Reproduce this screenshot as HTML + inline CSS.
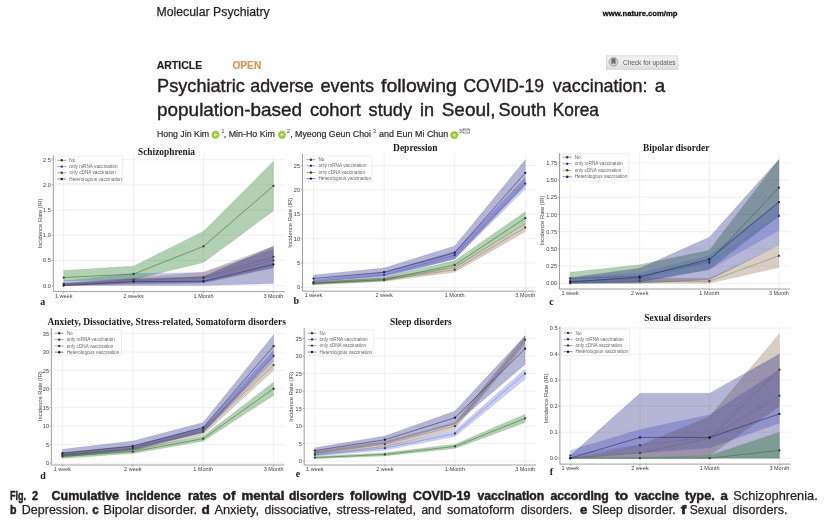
<!DOCTYPE html>
<html><head><meta charset="utf-8"><style>
html,body{margin:0;padding:0;background:#fff;width:825px;height:523px;overflow:hidden}
svg{display:block;filter:blur(0.35px)}
</style></head><body>
<svg width="825" height="523" viewBox="0 0 825 523">
<rect width="825" height="523" fill="#fff"/>
<text x="156.50" y="15.70" font-family="Liberation Sans" font-size="12.8" font-weight="normal" fill="#231f20" text-anchor="start" stroke="#231f20" stroke-width="0.25" textLength="113.20" lengthAdjust="spacingAndGlyphs">Molecular Psychiatry</text>
<text x="602.70" y="16.00" font-family="Liberation Sans" font-size="7.9" font-weight="bold" fill="#111" text-anchor="start" stroke="#111" stroke-width="0.3" textLength="74.80" lengthAdjust="spacingAndGlyphs">www.nature.com/mp</text>
<text x="156.70" y="69.00" font-family="Liberation Sans" font-size="10.6" font-weight="bold" fill="#231f20" text-anchor="start" stroke="#231f20" stroke-width="0.2" textLength="45.50" lengthAdjust="spacingAndGlyphs">ARTICLE</text>
<text x="232.40" y="69.00" font-family="Liberation Sans" font-size="10.4" font-weight="bold" fill="#d9955b" text-anchor="start" stroke="#d9955b" stroke-width="0.2" textLength="28.90" lengthAdjust="spacingAndGlyphs">OPEN</text>
<text x="157.10" y="91.60" font-family="Liberation Sans" font-size="18.4" font-weight="normal" fill="#231f20" text-anchor="start" stroke="#231f20" stroke-width="0.4" textLength="87.70" lengthAdjust="spacingAndGlyphs">Psychiatric</text>
<text x="250.30" y="91.60" font-family="Liberation Sans" font-size="18.4" font-weight="normal" fill="#231f20" text-anchor="start" stroke="#231f20" stroke-width="0.4" textLength="63.40" lengthAdjust="spacingAndGlyphs">adverse</text>
<text x="320.50" y="91.60" font-family="Liberation Sans" font-size="18.4" font-weight="normal" fill="#231f20" text-anchor="start" stroke="#231f20" stroke-width="0.4" textLength="53.50" lengthAdjust="spacingAndGlyphs">events</text>
<text x="381.00" y="91.60" font-family="Liberation Sans" font-size="18.4" font-weight="normal" fill="#231f20" text-anchor="start" stroke="#231f20" stroke-width="0.4" textLength="75.90" lengthAdjust="spacingAndGlyphs">following</text>
<text x="463.50" y="91.60" font-family="Liberation Sans" font-size="18.4" font-weight="normal" fill="#231f20" text-anchor="start" stroke="#231f20" stroke-width="0.4" textLength="80.50" lengthAdjust="spacingAndGlyphs">COVID-19</text>
<text x="552.80" y="91.60" font-family="Liberation Sans" font-size="18.4" font-weight="normal" fill="#231f20" text-anchor="start" stroke="#231f20" stroke-width="0.4" textLength="94.70" lengthAdjust="spacingAndGlyphs">vaccination:</text>
<text x="654.70" y="91.60" font-family="Liberation Sans" font-size="18.4" font-weight="normal" fill="#231f20" text-anchor="start" stroke="#231f20" stroke-width="0.4" textLength="10.40" lengthAdjust="spacingAndGlyphs">a</text>
<text x="157.10" y="115.50" font-family="Liberation Sans" font-size="18.4" font-weight="normal" fill="#231f20" text-anchor="start" stroke="#231f20" stroke-width="0.4" textLength="145.00" lengthAdjust="spacingAndGlyphs">population-based</text>
<text x="309.90" y="115.50" font-family="Liberation Sans" font-size="18.4" font-weight="normal" fill="#231f20" text-anchor="start" stroke="#231f20" stroke-width="0.4" textLength="51.00" lengthAdjust="spacingAndGlyphs">cohort</text>
<text x="368.60" y="115.50" font-family="Liberation Sans" font-size="18.4" font-weight="normal" fill="#231f20" text-anchor="start" stroke="#231f20" stroke-width="0.4" textLength="43.50" lengthAdjust="spacingAndGlyphs">study</text>
<text x="419.90" y="115.50" font-family="Liberation Sans" font-size="18.4" font-weight="normal" fill="#231f20" text-anchor="start" stroke="#231f20" stroke-width="0.4" textLength="14.10" lengthAdjust="spacingAndGlyphs">in</text>
<text x="441.70" y="115.50" font-family="Liberation Sans" font-size="18.4" font-weight="normal" fill="#231f20" text-anchor="start" stroke="#231f20" stroke-width="0.4" textLength="53.80" lengthAdjust="spacingAndGlyphs">Seoul,</text>
<text x="498.50" y="115.50" font-family="Liberation Sans" font-size="18.4" font-weight="normal" fill="#231f20" text-anchor="start" stroke="#231f20" stroke-width="0.4" textLength="47.60" lengthAdjust="spacingAndGlyphs">South</text>
<text x="552.80" y="115.50" font-family="Liberation Sans" font-size="18.4" font-weight="normal" fill="#231f20" text-anchor="start" stroke="#231f20" stroke-width="0.4" textLength="46.20" lengthAdjust="spacingAndGlyphs">Korea</text>
<defs><linearGradient id="cfu" x1="0" y1="0" x2="0" y2="1"><stop offset="0" stop-color="#f2f2f2"/><stop offset="0.6" stop-color="#e9e9e9"/><stop offset="1" stop-color="#dcdcdc"/></linearGradient></defs>
<rect x="606.5" y="55.9" width="71.4" height="13.6" fill="url(#cfu)" stroke="#d2d2d2" stroke-width="0.7"/>
<circle cx="613.5" cy="61.8" r="4.3" fill="#d6d6d6" stroke="#9a9a9a" stroke-width="0.9"/>
<path d="M611.4,58.6H615.6V64.4L613.5,63L611.4,64.4Z" fill="#6e6e6e"/>
<text x="623.00" y="65.00" font-family="Liberation Sans" font-size="6.3" font-weight="normal" fill="#5a5a5a" text-anchor="start" textLength="52.50" lengthAdjust="spacingAndGlyphs">Check for updates</text>
<text x="156.90" y="136.50" font-family="Liberation Sans" font-size="9.2" font-weight="normal" fill="#2a2a2a" text-anchor="start" stroke="#2a2a2a" stroke-width="0.2" textLength="52.30" lengthAdjust="spacingAndGlyphs">Hong Jin Kim</text>
<circle cx="215.5" cy="134.8" r="4.2" fill="#b5d86a"/><circle cx="215.5" cy="134.8" r="3.3" fill="#98c43c"/><circle cx="215.5" cy="134.8" r="1.7" fill="#cfe59a"/>
<text x="221.40" y="132.90" font-family="Liberation Sans" font-size="5.2" font-weight="normal" fill="#2a2a2a" text-anchor="start">1</text>
<text x="223.80" y="136.50" font-family="Liberation Sans" font-size="9.2" font-weight="normal" fill="#2a2a2a" text-anchor="start" stroke="#2a2a2a" stroke-width="0.2" textLength="51.10" lengthAdjust="spacingAndGlyphs">, Min-Ho Kim</text>
<circle cx="282" cy="134.8" r="4.2" fill="#b5d86a"/><circle cx="282" cy="134.8" r="3.3" fill="#98c43c"/><circle cx="282" cy="134.8" r="1.7" fill="#cfe59a"/>
<text x="287.00" y="132.90" font-family="Liberation Sans" font-size="5.2" font-weight="normal" fill="#2a2a2a" text-anchor="start">2</text>
<text x="290.20" y="136.50" font-family="Liberation Sans" font-size="9.2" font-weight="normal" fill="#2a2a2a" text-anchor="start" stroke="#2a2a2a" stroke-width="0.2" textLength="80.70" lengthAdjust="spacingAndGlyphs">, Myeong Geun Choi</text>
<text x="373.00" y="132.90" font-family="Liberation Sans" font-size="5.2" font-weight="normal" fill="#2a2a2a" text-anchor="start">3</text>
<text x="379.10" y="136.50" font-family="Liberation Sans" font-size="9.2" font-weight="normal" fill="#2a2a2a" text-anchor="start" stroke="#2a2a2a" stroke-width="0.2" textLength="69.20" lengthAdjust="spacingAndGlyphs">and Eun Mi Chun</text>
<circle cx="454.3" cy="135.1" r="4.2" fill="#b5d86a"/><circle cx="454.3" cy="135.1" r="3.3" fill="#98c43c"/><circle cx="454.3" cy="135.1" r="1.7" fill="#cfe59a"/>
<text x="458.90" y="132.70" font-family="Liberation Sans" font-size="5.0" font-weight="normal" fill="#2a2a2a" text-anchor="start">3</text>
<rect x="463.0" y="129.0" width="6.2" height="4.0" fill="none" stroke="#333" stroke-width="0.55"/><path d="M463.0,129.0L466.1,131.4L469.2,129.0" fill="none" stroke="#333" stroke-width="0.45"/>
<path d="M53.30,285.60H284.80M53.30,260.43H284.80M53.30,235.25H284.80M53.30,210.08H284.80M53.30,184.90H284.80M53.30,159.73H284.80M63.70,155.30V291.60M133.60,155.30V291.60M203.50,155.30V291.60M273.40,155.30V291.60" stroke="#e6e6e6" stroke-width="0.6" fill="none"/>
<polygon points="63.70,281.07 133.60,273.52 203.50,272.51 273.40,249.35 273.40,267.98 203.50,283.08 133.60,284.09 63.70,285.60" fill="rgb(80,90,210)" fill-opacity="0.3" stroke="rgb(80,90,210)" stroke-opacity="0.18" stroke-width="0.5"/>
<polygon points="63.70,283.08 133.60,278.05 203.50,272.01 273.40,246.33 273.40,267.47 203.50,282.58 133.60,283.59 63.70,285.60" fill="rgb(125,95,60)" fill-opacity="0.3" stroke="rgb(125,95,60)" stroke-opacity="0.18" stroke-width="0.5"/>
<polygon points="63.70,283.59 133.60,279.05 203.50,276.54 273.40,246.33 273.40,283.59 203.50,285.60 133.60,285.60 63.70,285.60" fill="rgb(10,10,120)" fill-opacity="0.3" stroke="rgb(10,10,120)" stroke-opacity="0.18" stroke-width="0.5"/>
<polygon points="63.70,270.50 133.60,265.96 203.50,231.22 273.40,161.24 273.40,211.08 203.50,262.44 133.60,279.56 63.70,281.32" fill="rgb(0,100,0)" fill-opacity="0.3" stroke="rgb(0,100,0)" stroke-opacity="0.18" stroke-width="0.5"/>
<polyline points="63.70,277.54 133.60,274.02 203.50,246.33 273.40,185.91" fill="none" stroke="rgb(55,105,55)" stroke-width="0.65" stroke-opacity="0.85"/>
<circle cx="63.70" cy="277.54" r="1.15" fill="rgb(35,70,35)"/>
<circle cx="133.60" cy="274.02" r="1.15" fill="rgb(35,70,35)"/>
<circle cx="203.50" cy="246.33" r="1.15" fill="rgb(35,70,35)"/>
<circle cx="273.40" cy="185.91" r="1.15" fill="rgb(35,70,35)"/>
<polyline points="63.70,283.59 133.60,279.56 203.50,278.05 273.40,260.43" fill="none" stroke="rgb(85,95,175)" stroke-width="0.65" stroke-opacity="0.6"/>
<circle cx="63.70" cy="283.59" r="1.15" fill="rgb(50,55,120)"/>
<circle cx="133.60" cy="279.56" r="1.15" fill="rgb(50,55,120)"/>
<circle cx="203.50" cy="278.05" r="1.15" fill="rgb(50,55,120)"/>
<circle cx="273.40" cy="260.43" r="1.15" fill="rgb(50,55,120)"/>
<polyline points="63.70,284.59 133.60,281.07 203.50,277.04 273.40,256.90" fill="none" stroke="rgb(110,90,65)" stroke-width="0.65" stroke-opacity="0.6"/>
<circle cx="63.70" cy="284.59" r="1.15" fill="rgb(70,60,45)"/>
<circle cx="133.60" cy="281.07" r="1.15" fill="rgb(70,60,45)"/>
<circle cx="203.50" cy="277.04" r="1.15" fill="rgb(70,60,45)"/>
<circle cx="273.40" cy="256.90" r="1.15" fill="rgb(70,60,45)"/>
<polyline points="63.70,285.60 133.60,281.57 203.50,281.27 273.40,264.45" fill="none" stroke="rgb(35,35,95)" stroke-width="0.65" stroke-opacity="0.85"/>
<circle cx="63.70" cy="285.60" r="1.15" fill="rgb(25,25,65)"/>
<circle cx="133.60" cy="281.57" r="1.15" fill="rgb(25,25,65)"/>
<circle cx="203.50" cy="281.27" r="1.15" fill="rgb(25,25,65)"/>
<circle cx="273.40" cy="264.45" r="1.15" fill="rgb(25,25,65)"/>
<path d="M53.30,155.30V291.60H284.80" stroke="#888" stroke-width="0.8" fill="none"/>
<path d="M51.50,285.60H53.30M51.50,260.43H53.30M51.50,235.25H53.30M51.50,210.08H53.30M51.50,184.90H53.30M51.50,159.73H53.30M63.70,291.60V293.40M133.60,291.60V293.40M203.50,291.60V293.40M273.40,291.60V293.40" stroke="#888" stroke-width="0.6" fill="none"/>
<text x="50.90" y="287.60" font-family="Liberation Sans" font-size="5.6" font-weight="normal" fill="#3c3c3c" text-anchor="end">0.0</text>
<text x="50.90" y="262.43" font-family="Liberation Sans" font-size="5.6" font-weight="normal" fill="#3c3c3c" text-anchor="end">0.5</text>
<text x="50.90" y="237.25" font-family="Liberation Sans" font-size="5.6" font-weight="normal" fill="#3c3c3c" text-anchor="end">1.0</text>
<text x="50.90" y="212.08" font-family="Liberation Sans" font-size="5.6" font-weight="normal" fill="#3c3c3c" text-anchor="end">1.5</text>
<text x="50.90" y="186.90" font-family="Liberation Sans" font-size="5.6" font-weight="normal" fill="#3c3c3c" text-anchor="end">2.0</text>
<text x="50.90" y="161.73" font-family="Liberation Sans" font-size="5.6" font-weight="normal" fill="#3c3c3c" text-anchor="end">2.5</text>
<text x="63.70" y="297.60" font-family="Liberation Sans" font-size="5.5" font-weight="normal" fill="#3c3c3c" text-anchor="middle">1 week</text>
<text x="133.60" y="297.60" font-family="Liberation Sans" font-size="5.5" font-weight="normal" fill="#3c3c3c" text-anchor="middle">2 weeks</text>
<text x="203.50" y="297.60" font-family="Liberation Sans" font-size="5.5" font-weight="normal" fill="#3c3c3c" text-anchor="middle">1 Month</text>
<text x="273.40" y="297.60" font-family="Liberation Sans" font-size="5.5" font-weight="normal" fill="#3c3c3c" text-anchor="middle">3 Month</text>
<text x="0" y="0" transform="translate(41.60,223.50) rotate(-90)" font-family="Liberation Sans" font-size="5.8" fill="#444" text-anchor="middle">Incidence Rate (IR)</text>
<rect x="55.30" y="156.00" width="67.30" height="27.60" rx="1" fill="#fff" fill-opacity="0.8" stroke="#dcdcdc" stroke-width="0.5"/>
<path d="M57.30,160.30H66.30" stroke="rgb(55,105,55)" stroke-width="0.8" stroke-opacity="0.7"/>
<circle cx="61.80" cy="160.30" r="1.2" fill="rgb(35,70,35)"/>
<text x="69.30" y="161.90" font-family="Liberation Sans" font-size="4.7" font-weight="normal" fill="#666" text-anchor="start">No</text>
<path d="M57.30,166.60H66.30" stroke="rgb(85,95,175)" stroke-width="0.8" stroke-opacity="0.7"/>
<circle cx="61.80" cy="166.60" r="1.2" fill="rgb(50,55,120)"/>
<text x="69.30" y="168.20" font-family="Liberation Sans" font-size="4.7" font-weight="normal" fill="#666" text-anchor="start">only mRNA vaccination</text>
<path d="M57.30,172.80H66.30" stroke="rgb(110,90,65)" stroke-width="0.8" stroke-opacity="0.7"/>
<circle cx="61.80" cy="172.80" r="1.2" fill="rgb(70,60,45)"/>
<text x="69.30" y="174.40" font-family="Liberation Sans" font-size="4.7" font-weight="normal" fill="#666" text-anchor="start">only cDNA vaccination</text>
<path d="M57.30,179.00H66.30" stroke="rgb(35,35,95)" stroke-width="0.8" stroke-opacity="0.7"/>
<circle cx="61.80" cy="179.00" r="1.2" fill="rgb(25,25,65)"/>
<text x="69.30" y="180.60" font-family="Liberation Sans" font-size="4.7" font-weight="normal" fill="#666" text-anchor="start">Heterologous vaccination</text>
<text x="138.00" y="154.50" font-family="Liberation Serif" font-size="9.4" font-weight="bold" fill="#1a1a1a" text-anchor="start" textLength="57.00" lengthAdjust="spacingAndGlyphs">Schizophrenia</text>
<text x="42.70" y="304.80" font-family="Liberation Serif" font-size="10" font-weight="bold" fill="#1a1a1a" text-anchor="middle">a</text>
<path d="M302.50,287.30H535.60M302.50,262.95H535.60M302.50,238.60H535.60M302.50,214.25H535.60M302.50,189.90H535.60M302.50,165.55H535.60M313.50,153.80V291.20M384.10,153.80V291.20M454.70,153.80V291.20M525.30,153.80V291.20" stroke="#e6e6e6" stroke-width="0.6" fill="none"/>
<polygon points="313.50,280.00 384.10,272.20 454.70,251.26 525.30,177.73 525.30,188.93 454.70,259.05 384.10,278.05 313.50,283.89" fill="rgb(80,90,210)" fill-opacity="0.3" stroke="rgb(80,90,210)" stroke-opacity="0.18" stroke-width="0.5"/>
<polygon points="313.50,281.94 384.10,278.05 454.70,266.85 525.30,223.50 525.30,231.78 454.70,272.20 384.10,281.46 313.50,284.87" fill="rgb(125,95,60)" fill-opacity="0.3" stroke="rgb(125,95,60)" stroke-opacity="0.18" stroke-width="0.5"/>
<polygon points="313.50,274.88 384.10,268.06 454.70,245.91 525.30,159.71 525.30,185.03 454.70,259.05 384.10,276.10 313.50,281.46" fill="rgb(10,10,120)" fill-opacity="0.3" stroke="rgb(10,10,120)" stroke-opacity="0.18" stroke-width="0.5"/>
<polygon points="313.50,281.94 384.10,277.56 454.70,260.51 525.30,211.81 525.30,223.99 454.70,267.82 384.10,280.97 313.50,284.62" fill="rgb(0,100,0)" fill-opacity="0.3" stroke="rgb(0,100,0)" stroke-opacity="0.18" stroke-width="0.5"/>
<polyline points="313.50,283.40 384.10,279.51 454.70,264.90 525.30,218.15" fill="none" stroke="rgb(55,105,55)" stroke-width="0.65" stroke-opacity="0.85"/>
<circle cx="313.50" cy="283.40" r="1.15" fill="rgb(35,70,35)"/>
<circle cx="384.10" cy="279.51" r="1.15" fill="rgb(35,70,35)"/>
<circle cx="454.70" cy="264.90" r="1.15" fill="rgb(35,70,35)"/>
<circle cx="525.30" cy="218.15" r="1.15" fill="rgb(35,70,35)"/>
<polyline points="313.50,281.94 384.10,275.12 454.70,255.16 525.30,183.57" fill="none" stroke="rgb(85,95,175)" stroke-width="0.65" stroke-opacity="0.6"/>
<circle cx="313.50" cy="281.94" r="1.15" fill="rgb(50,55,120)"/>
<circle cx="384.10" cy="275.12" r="1.15" fill="rgb(50,55,120)"/>
<circle cx="454.70" cy="255.16" r="1.15" fill="rgb(50,55,120)"/>
<circle cx="525.30" cy="183.57" r="1.15" fill="rgb(50,55,120)"/>
<polyline points="313.50,283.40 384.10,280.00 454.70,269.77 525.30,227.40" fill="none" stroke="rgb(110,90,65)" stroke-width="0.65" stroke-opacity="0.6"/>
<circle cx="313.50" cy="283.40" r="1.15" fill="rgb(70,60,45)"/>
<circle cx="384.10" cy="280.00" r="1.15" fill="rgb(70,60,45)"/>
<circle cx="454.70" cy="269.77" r="1.15" fill="rgb(70,60,45)"/>
<circle cx="525.30" cy="227.40" r="1.15" fill="rgb(70,60,45)"/>
<polyline points="313.50,278.53 384.10,272.20 454.70,252.72 525.30,172.86" fill="none" stroke="rgb(35,35,95)" stroke-width="0.65" stroke-opacity="0.85"/>
<circle cx="313.50" cy="278.53" r="1.15" fill="rgb(25,25,65)"/>
<circle cx="384.10" cy="272.20" r="1.15" fill="rgb(25,25,65)"/>
<circle cx="454.70" cy="252.72" r="1.15" fill="rgb(25,25,65)"/>
<circle cx="525.30" cy="172.86" r="1.15" fill="rgb(25,25,65)"/>
<path d="M302.50,153.80V291.20H535.60" stroke="#888" stroke-width="0.8" fill="none"/>
<path d="M300.70,287.30H302.50M300.70,262.95H302.50M300.70,238.60H302.50M300.70,214.25H302.50M300.70,189.90H302.50M300.70,165.55H302.50M313.50,291.20V293.00M384.10,291.20V293.00M454.70,291.20V293.00M525.30,291.20V293.00" stroke="#888" stroke-width="0.6" fill="none"/>
<text x="300.10" y="289.30" font-family="Liberation Sans" font-size="5.6" font-weight="normal" fill="#3c3c3c" text-anchor="end">0</text>
<text x="300.10" y="264.95" font-family="Liberation Sans" font-size="5.6" font-weight="normal" fill="#3c3c3c" text-anchor="end">5</text>
<text x="300.10" y="240.60" font-family="Liberation Sans" font-size="5.6" font-weight="normal" fill="#3c3c3c" text-anchor="end">10</text>
<text x="300.10" y="216.25" font-family="Liberation Sans" font-size="5.6" font-weight="normal" fill="#3c3c3c" text-anchor="end">15</text>
<text x="300.10" y="191.90" font-family="Liberation Sans" font-size="5.6" font-weight="normal" fill="#3c3c3c" text-anchor="end">20</text>
<text x="300.10" y="167.55" font-family="Liberation Sans" font-size="5.6" font-weight="normal" fill="#3c3c3c" text-anchor="end">25</text>
<text x="313.50" y="297.20" font-family="Liberation Sans" font-size="5.5" font-weight="normal" fill="#3c3c3c" text-anchor="middle">1 week</text>
<text x="384.10" y="297.20" font-family="Liberation Sans" font-size="5.5" font-weight="normal" fill="#3c3c3c" text-anchor="middle">2 week</text>
<text x="454.70" y="297.20" font-family="Liberation Sans" font-size="5.5" font-weight="normal" fill="#3c3c3c" text-anchor="middle">1 Month</text>
<text x="525.30" y="297.20" font-family="Liberation Sans" font-size="5.5" font-weight="normal" fill="#3c3c3c" text-anchor="middle">3 Month</text>
<text x="0" y="0" transform="translate(292.30,222.80) rotate(-90)" font-family="Liberation Sans" font-size="5.8" fill="#444" text-anchor="middle">Incidence Rate (IR)</text>
<rect x="304.40" y="155.80" width="67.80" height="25.70" rx="1" fill="#fff" fill-opacity="0.8" stroke="#dcdcdc" stroke-width="0.5"/>
<path d="M306.40,159.70H315.40" stroke="rgb(55,105,55)" stroke-width="0.8" stroke-opacity="0.7"/>
<circle cx="310.90" cy="159.70" r="1.2" fill="rgb(35,70,35)"/>
<text x="318.40" y="161.30" font-family="Liberation Sans" font-size="4.7" font-weight="normal" fill="#666" text-anchor="start">No</text>
<path d="M306.40,165.80H315.40" stroke="rgb(85,95,175)" stroke-width="0.8" stroke-opacity="0.7"/>
<circle cx="310.90" cy="165.80" r="1.2" fill="rgb(50,55,120)"/>
<text x="318.40" y="167.40" font-family="Liberation Sans" font-size="4.7" font-weight="normal" fill="#666" text-anchor="start">only mRNA vaccination</text>
<path d="M306.40,172.50H315.40" stroke="rgb(110,90,65)" stroke-width="0.8" stroke-opacity="0.7"/>
<circle cx="310.90" cy="172.50" r="1.2" fill="rgb(70,60,45)"/>
<text x="318.40" y="174.10" font-family="Liberation Sans" font-size="4.7" font-weight="normal" fill="#666" text-anchor="start">only cDNA vaccination</text>
<path d="M306.40,178.60H315.40" stroke="rgb(35,35,95)" stroke-width="0.8" stroke-opacity="0.7"/>
<circle cx="310.90" cy="178.60" r="1.2" fill="rgb(25,25,65)"/>
<text x="318.40" y="180.20" font-family="Liberation Sans" font-size="4.7" font-weight="normal" fill="#666" text-anchor="start">Heterologous vaccination</text>
<text x="393.10" y="151.10" font-family="Liberation Serif" font-size="9.4" font-weight="bold" fill="#1a1a1a" text-anchor="start" textLength="44.50" lengthAdjust="spacingAndGlyphs">Depression</text>
<text x="296.30" y="304.30" font-family="Liberation Serif" font-size="10" font-weight="bold" fill="#1a1a1a" text-anchor="middle">b</text>
<path d="M559.50,283.30H790.00M559.50,266.10H790.00M559.50,248.90H790.00M559.50,231.70H790.00M559.50,214.50H790.00M559.50,197.30H790.00M559.50,180.10H790.00M559.50,162.90H790.00M570.10,152.90V289.00M639.70,152.90V289.00M709.30,152.90V289.00M778.90,152.90V289.00" stroke="#e6e6e6" stroke-width="0.6" fill="none"/>
<polygon points="570.10,272.29 639.70,264.72 709.30,250.28 778.90,159.46 778.90,215.88 709.30,269.54 639.70,281.92 570.10,283.30" fill="rgb(0,100,0)" fill-opacity="0.3" stroke="rgb(0,100,0)" stroke-opacity="0.18" stroke-width="0.5"/>
<polygon points="570.10,281.24 639.70,277.80 709.30,278.48 778.90,246.15 778.90,267.48 709.30,283.30 639.70,283.30 570.10,283.30" fill="rgb(125,95,60)" fill-opacity="0.3" stroke="rgb(125,95,60)" stroke-opacity="0.18" stroke-width="0.5"/>
<polygon points="570.10,277.80 639.70,268.16 709.30,237.20 778.90,159.46 778.90,245.46 709.30,279.86 639.70,283.30 570.10,283.30" fill="rgb(10,10,120)" fill-opacity="0.3" stroke="rgb(10,10,120)" stroke-opacity="0.18" stroke-width="0.5"/>
<polygon points="570.10,277.80 639.70,272.98 709.30,255.78 778.90,202.12 778.90,230.32 709.30,269.54 639.70,281.92 570.10,283.30" fill="rgb(80,90,210)" fill-opacity="0.3" stroke="rgb(80,90,210)" stroke-opacity="0.18" stroke-width="0.5"/>
<polyline points="570.10,278.48 639.70,276.42 709.30,261.28 778.90,187.67" fill="none" stroke="rgb(55,105,55)" stroke-width="0.65" stroke-opacity="0.85"/>
<circle cx="570.10" cy="278.48" r="1.15" fill="rgb(35,70,35)"/>
<circle cx="639.70" cy="276.42" r="1.15" fill="rgb(35,70,35)"/>
<circle cx="709.30" cy="261.28" r="1.15" fill="rgb(35,70,35)"/>
<circle cx="778.90" cy="187.67" r="1.15" fill="rgb(35,70,35)"/>
<polyline points="570.10,281.24 639.70,278.48 709.30,262.66 778.90,215.88" fill="none" stroke="rgb(85,95,175)" stroke-width="0.65" stroke-opacity="0.6"/>
<circle cx="570.10" cy="281.24" r="1.15" fill="rgb(50,55,120)"/>
<circle cx="639.70" cy="278.48" r="1.15" fill="rgb(50,55,120)"/>
<circle cx="709.30" cy="262.66" r="1.15" fill="rgb(50,55,120)"/>
<circle cx="778.90" cy="215.88" r="1.15" fill="rgb(50,55,120)"/>
<polyline points="570.10,283.30 639.70,281.24 709.30,281.24 778.90,255.78" fill="none" stroke="rgb(110,90,65)" stroke-width="0.65" stroke-opacity="0.6"/>
<circle cx="570.10" cy="283.30" r="1.15" fill="rgb(70,60,45)"/>
<circle cx="639.70" cy="281.24" r="1.15" fill="rgb(70,60,45)"/>
<circle cx="709.30" cy="281.24" r="1.15" fill="rgb(70,60,45)"/>
<circle cx="778.90" cy="255.78" r="1.15" fill="rgb(70,60,45)"/>
<polyline points="570.10,281.92 639.70,277.11 709.30,259.22 778.90,202.12" fill="none" stroke="rgb(35,35,95)" stroke-width="0.65" stroke-opacity="0.85"/>
<circle cx="570.10" cy="281.92" r="1.15" fill="rgb(25,25,65)"/>
<circle cx="639.70" cy="277.11" r="1.15" fill="rgb(25,25,65)"/>
<circle cx="709.30" cy="259.22" r="1.15" fill="rgb(25,25,65)"/>
<circle cx="778.90" cy="202.12" r="1.15" fill="rgb(25,25,65)"/>
<path d="M559.50,152.90V289.00H790.00" stroke="#888" stroke-width="0.8" fill="none"/>
<path d="M557.70,283.30H559.50M557.70,266.10H559.50M557.70,248.90H559.50M557.70,231.70H559.50M557.70,214.50H559.50M557.70,197.30H559.50M557.70,180.10H559.50M557.70,162.90H559.50M570.10,289.00V290.80M639.70,289.00V290.80M709.30,289.00V290.80M778.90,289.00V290.80" stroke="#888" stroke-width="0.6" fill="none"/>
<text x="557.10" y="285.30" font-family="Liberation Sans" font-size="5.6" font-weight="normal" fill="#3c3c3c" text-anchor="end">0.00</text>
<text x="557.10" y="268.10" font-family="Liberation Sans" font-size="5.6" font-weight="normal" fill="#3c3c3c" text-anchor="end">0.25</text>
<text x="557.10" y="250.90" font-family="Liberation Sans" font-size="5.6" font-weight="normal" fill="#3c3c3c" text-anchor="end">0.50</text>
<text x="557.10" y="233.70" font-family="Liberation Sans" font-size="5.6" font-weight="normal" fill="#3c3c3c" text-anchor="end">0.75</text>
<text x="557.10" y="216.50" font-family="Liberation Sans" font-size="5.6" font-weight="normal" fill="#3c3c3c" text-anchor="end">1.00</text>
<text x="557.10" y="199.30" font-family="Liberation Sans" font-size="5.6" font-weight="normal" fill="#3c3c3c" text-anchor="end">1.25</text>
<text x="557.10" y="182.10" font-family="Liberation Sans" font-size="5.6" font-weight="normal" fill="#3c3c3c" text-anchor="end">1.50</text>
<text x="557.10" y="164.90" font-family="Liberation Sans" font-size="5.6" font-weight="normal" fill="#3c3c3c" text-anchor="end">1.75</text>
<text x="570.10" y="295.00" font-family="Liberation Sans" font-size="5.5" font-weight="normal" fill="#3c3c3c" text-anchor="middle">1 week</text>
<text x="639.70" y="295.00" font-family="Liberation Sans" font-size="5.5" font-weight="normal" fill="#3c3c3c" text-anchor="middle">2 week</text>
<text x="709.30" y="295.00" font-family="Liberation Sans" font-size="5.5" font-weight="normal" fill="#3c3c3c" text-anchor="middle">1 Month</text>
<text x="778.90" y="295.00" font-family="Liberation Sans" font-size="5.5" font-weight="normal" fill="#3c3c3c" text-anchor="middle">3 Month</text>
<text x="0" y="0" transform="translate(543.60,220.50) rotate(-90)" font-family="Liberation Sans" font-size="5.8" fill="#444" text-anchor="middle">Incidence Rate (IR)</text>
<rect x="560.70" y="153.80" width="68.00" height="27.20" rx="1" fill="#fff" fill-opacity="0.8" stroke="#dcdcdc" stroke-width="0.5"/>
<path d="M562.70,157.20H571.70" stroke="rgb(55,105,55)" stroke-width="0.8" stroke-opacity="0.7"/>
<circle cx="567.20" cy="157.20" r="1.2" fill="rgb(35,70,35)"/>
<text x="574.70" y="158.80" font-family="Liberation Sans" font-size="4.7" font-weight="normal" fill="#666" text-anchor="start">No</text>
<path d="M562.70,163.70H571.70" stroke="rgb(85,95,175)" stroke-width="0.8" stroke-opacity="0.7"/>
<circle cx="567.20" cy="163.70" r="1.2" fill="rgb(50,55,120)"/>
<text x="574.70" y="165.30" font-family="Liberation Sans" font-size="4.7" font-weight="normal" fill="#666" text-anchor="start">only mRNA vaccination</text>
<path d="M562.70,170.30H571.70" stroke="rgb(110,90,65)" stroke-width="0.8" stroke-opacity="0.7"/>
<circle cx="567.20" cy="170.30" r="1.2" fill="rgb(70,60,45)"/>
<text x="574.70" y="171.90" font-family="Liberation Sans" font-size="4.7" font-weight="normal" fill="#666" text-anchor="start">only cDNA vaccination</text>
<path d="M562.70,176.80H571.70" stroke="rgb(35,35,95)" stroke-width="0.8" stroke-opacity="0.7"/>
<circle cx="567.20" cy="176.80" r="1.2" fill="rgb(25,25,65)"/>
<text x="574.70" y="178.40" font-family="Liberation Sans" font-size="4.7" font-weight="normal" fill="#666" text-anchor="start">Heterologous vaccination</text>
<text x="643.10" y="151.10" font-family="Liberation Serif" font-size="9.4" font-weight="bold" fill="#1a1a1a" text-anchor="start" textLength="66.30" lengthAdjust="spacingAndGlyphs">Bipolar disorder</text>
<text x="551.60" y="304.80" font-family="Liberation Serif" font-size="10" font-weight="bold" fill="#1a1a1a" text-anchor="middle">c</text>
<path d="M51.40,463.10H284.40M51.40,444.60H284.40M51.40,426.10H284.40M51.40,407.60H284.40M51.40,389.10H284.40M51.40,370.60H284.40M51.40,352.10H284.40M51.40,333.60H284.40M62.40,328.00V465.00M132.80,328.00V465.00M203.20,328.00V465.00M273.60,328.00V465.00" stroke="#e6e6e6" stroke-width="0.6" fill="none"/>
<polygon points="62.40,453.48 132.80,446.45 203.20,427.21 273.60,350.25 273.60,361.35 203.20,432.39 132.80,450.15 62.40,456.44" fill="rgb(80,90,210)" fill-opacity="0.3" stroke="rgb(80,90,210)" stroke-opacity="0.18" stroke-width="0.5"/>
<polygon points="62.40,452.74 132.80,445.71 203.20,428.32 273.60,359.50 273.60,370.60 203.20,434.98 132.80,450.89 62.40,457.18" fill="rgb(125,95,60)" fill-opacity="0.3" stroke="rgb(125,95,60)" stroke-opacity="0.18" stroke-width="0.5"/>
<polygon points="62.40,449.23 132.80,440.90 203.20,422.40 273.60,334.71 273.60,357.65 203.20,432.39 132.80,449.78 62.40,456.07" fill="rgb(10,10,120)" fill-opacity="0.3" stroke="rgb(10,10,120)" stroke-opacity="0.18" stroke-width="0.5"/>
<polygon points="62.40,454.22 132.80,449.41 203.20,436.09 273.60,382.07 273.60,395.39 203.20,441.27 132.80,453.48 62.40,458.48" fill="rgb(0,100,0)" fill-opacity="0.3" stroke="rgb(0,100,0)" stroke-opacity="0.18" stroke-width="0.5"/>
<polyline points="62.40,456.44 132.80,451.63 203.20,438.68 273.60,388.73" fill="none" stroke="rgb(55,105,55)" stroke-width="0.65" stroke-opacity="0.85"/>
<circle cx="62.40" cy="456.44" r="1.15" fill="rgb(35,70,35)"/>
<circle cx="132.80" cy="451.63" r="1.15" fill="rgb(35,70,35)"/>
<circle cx="203.20" cy="438.68" r="1.15" fill="rgb(35,70,35)"/>
<circle cx="273.60" cy="388.73" r="1.15" fill="rgb(35,70,35)"/>
<polyline points="62.40,454.96 132.80,448.30 203.20,429.80 273.60,355.80" fill="none" stroke="rgb(85,95,175)" stroke-width="0.65" stroke-opacity="0.6"/>
<circle cx="62.40" cy="454.96" r="1.15" fill="rgb(50,55,120)"/>
<circle cx="132.80" cy="448.30" r="1.15" fill="rgb(50,55,120)"/>
<circle cx="203.20" cy="429.80" r="1.15" fill="rgb(50,55,120)"/>
<circle cx="273.60" cy="355.80" r="1.15" fill="rgb(50,55,120)"/>
<polyline points="62.40,454.96 132.80,448.30 203.20,431.65 273.60,365.05" fill="none" stroke="rgb(110,90,65)" stroke-width="0.65" stroke-opacity="0.6"/>
<circle cx="62.40" cy="454.96" r="1.15" fill="rgb(70,60,45)"/>
<circle cx="132.80" cy="448.30" r="1.15" fill="rgb(70,60,45)"/>
<circle cx="203.20" cy="431.65" r="1.15" fill="rgb(70,60,45)"/>
<circle cx="273.60" cy="365.05" r="1.15" fill="rgb(70,60,45)"/>
<polyline points="62.40,453.11 132.80,446.08 203.20,427.58 273.60,346.18" fill="none" stroke="rgb(35,35,95)" stroke-width="0.65" stroke-opacity="0.85"/>
<circle cx="62.40" cy="453.11" r="1.15" fill="rgb(25,25,65)"/>
<circle cx="132.80" cy="446.08" r="1.15" fill="rgb(25,25,65)"/>
<circle cx="203.20" cy="427.58" r="1.15" fill="rgb(25,25,65)"/>
<circle cx="273.60" cy="346.18" r="1.15" fill="rgb(25,25,65)"/>
<path d="M51.40,328.00V465.00H284.40" stroke="#888" stroke-width="0.8" fill="none"/>
<path d="M49.60,463.10H51.40M49.60,444.60H51.40M49.60,426.10H51.40M49.60,407.60H51.40M49.60,389.10H51.40M49.60,370.60H51.40M49.60,352.10H51.40M49.60,333.60H51.40M62.40,465.00V466.80M132.80,465.00V466.80M203.20,465.00V466.80M273.60,465.00V466.80" stroke="#888" stroke-width="0.6" fill="none"/>
<text x="49.00" y="465.10" font-family="Liberation Sans" font-size="5.6" font-weight="normal" fill="#3c3c3c" text-anchor="end">0</text>
<text x="49.00" y="446.60" font-family="Liberation Sans" font-size="5.6" font-weight="normal" fill="#3c3c3c" text-anchor="end">5</text>
<text x="49.00" y="428.10" font-family="Liberation Sans" font-size="5.6" font-weight="normal" fill="#3c3c3c" text-anchor="end">10</text>
<text x="49.00" y="409.60" font-family="Liberation Sans" font-size="5.6" font-weight="normal" fill="#3c3c3c" text-anchor="end">15</text>
<text x="49.00" y="391.10" font-family="Liberation Sans" font-size="5.6" font-weight="normal" fill="#3c3c3c" text-anchor="end">20</text>
<text x="49.00" y="372.60" font-family="Liberation Sans" font-size="5.6" font-weight="normal" fill="#3c3c3c" text-anchor="end">25</text>
<text x="49.00" y="354.10" font-family="Liberation Sans" font-size="5.6" font-weight="normal" fill="#3c3c3c" text-anchor="end">30</text>
<text x="49.00" y="335.60" font-family="Liberation Sans" font-size="5.6" font-weight="normal" fill="#3c3c3c" text-anchor="end">35</text>
<text x="62.40" y="471.00" font-family="Liberation Sans" font-size="5.5" font-weight="normal" fill="#3c3c3c" text-anchor="middle">1 week</text>
<text x="132.80" y="471.00" font-family="Liberation Sans" font-size="5.5" font-weight="normal" fill="#3c3c3c" text-anchor="middle">2 week</text>
<text x="203.20" y="471.00" font-family="Liberation Sans" font-size="5.5" font-weight="normal" fill="#3c3c3c" text-anchor="middle">1 Month</text>
<text x="273.60" y="471.00" font-family="Liberation Sans" font-size="5.5" font-weight="normal" fill="#3c3c3c" text-anchor="middle">3 Month</text>
<text x="0" y="0" transform="translate(41.90,396.20) rotate(-90)" font-family="Liberation Sans" font-size="5.8" fill="#444" text-anchor="middle">Incidence Rate (IR)</text>
<rect x="52.70" y="329.80" width="68.90" height="25.30" rx="1" fill="#fff" fill-opacity="0.8" stroke="#dcdcdc" stroke-width="0.5"/>
<path d="M54.70,333.20H63.70" stroke="rgb(55,105,55)" stroke-width="0.8" stroke-opacity="0.7"/>
<circle cx="59.20" cy="333.20" r="1.2" fill="rgb(35,70,35)"/>
<text x="66.70" y="334.80" font-family="Liberation Sans" font-size="4.7" font-weight="normal" fill="#666" text-anchor="start">No</text>
<path d="M54.70,339.60H63.70" stroke="rgb(85,95,175)" stroke-width="0.8" stroke-opacity="0.7"/>
<circle cx="59.20" cy="339.60" r="1.2" fill="rgb(50,55,120)"/>
<text x="66.70" y="341.20" font-family="Liberation Sans" font-size="4.7" font-weight="normal" fill="#666" text-anchor="start">only mRNA vaccination</text>
<path d="M54.70,346.00H63.70" stroke="rgb(110,90,65)" stroke-width="0.8" stroke-opacity="0.7"/>
<circle cx="59.20" cy="346.00" r="1.2" fill="rgb(70,60,45)"/>
<text x="66.70" y="347.60" font-family="Liberation Sans" font-size="4.7" font-weight="normal" fill="#666" text-anchor="start">only cDNA vaccination</text>
<path d="M54.70,352.20H63.70" stroke="rgb(35,35,95)" stroke-width="0.8" stroke-opacity="0.7"/>
<circle cx="59.20" cy="352.20" r="1.2" fill="rgb(25,25,65)"/>
<text x="66.70" y="353.80" font-family="Liberation Sans" font-size="4.7" font-weight="normal" fill="#666" text-anchor="start">Heterologous vaccination</text>
<text x="47.50" y="324.70" font-family="Liberation Serif" font-size="9.4" font-weight="bold" fill="#1a1a1a" text-anchor="start" textLength="238.30" lengthAdjust="spacingAndGlyphs">Anxiety, Dissociative, Stress-related, Somatoform disorders</text>
<text x="43.10" y="478.50" font-family="Liberation Serif" font-size="10" font-weight="bold" fill="#1a1a1a" text-anchor="middle">d</text>
<path d="M304.20,461.10H536.00M304.20,443.60H536.00M304.20,426.10H536.00M304.20,408.60H536.00M304.20,391.10H536.00M304.20,373.60H536.00M304.20,356.10H536.00M304.20,338.60H536.00M314.80,328.10V465.00M384.90,328.10V465.00M455.00,328.10V465.00M525.10,328.10V465.00" stroke="#e6e6e6" stroke-width="0.6" fill="none"/>
<polygon points="314.80,453.40 384.90,446.05 455.00,430.30 525.10,369.05 525.10,379.20 455.00,436.60 384.90,450.25 314.80,456.20" fill="rgb(80,90,210)" fill-opacity="0.3" stroke="rgb(80,90,210)" stroke-opacity="0.18" stroke-width="0.5"/>
<polygon points="314.80,451.30 384.90,441.50 455.00,422.60 525.10,335.45 525.10,343.85 455.00,429.60 384.90,447.10 314.80,455.50" fill="rgb(125,95,60)" fill-opacity="0.3" stroke="rgb(125,95,60)" stroke-opacity="0.18" stroke-width="0.5"/>
<polygon points="314.80,447.80 384.90,435.90 455.00,411.05 525.10,335.80 525.10,364.50 455.00,424.35 384.90,443.60 314.80,453.40" fill="rgb(10,10,120)" fill-opacity="0.3" stroke="rgb(10,10,120)" stroke-opacity="0.18" stroke-width="0.5"/>
<polygon points="314.80,456.55 384.90,452.70 455.00,444.30 525.10,414.20 525.10,422.60 455.00,448.50 384.90,456.03 314.80,458.65" fill="rgb(0,100,0)" fill-opacity="0.3" stroke="rgb(0,100,0)" stroke-opacity="0.18" stroke-width="0.5"/>
<polyline points="314.80,457.60 384.90,454.45 455.00,446.40 525.10,418.40" fill="none" stroke="rgb(55,105,55)" stroke-width="0.65" stroke-opacity="0.85"/>
<circle cx="314.80" cy="457.60" r="1.15" fill="rgb(35,70,35)"/>
<circle cx="384.90" cy="454.45" r="1.15" fill="rgb(35,70,35)"/>
<circle cx="455.00" cy="446.40" r="1.15" fill="rgb(35,70,35)"/>
<circle cx="525.10" cy="418.40" r="1.15" fill="rgb(35,70,35)"/>
<polyline points="314.80,454.80 384.90,448.15 455.00,433.45 525.10,373.60" fill="none" stroke="rgb(85,95,175)" stroke-width="0.65" stroke-opacity="0.6"/>
<circle cx="314.80" cy="454.80" r="1.15" fill="rgb(50,55,120)"/>
<circle cx="384.90" cy="448.15" r="1.15" fill="rgb(50,55,120)"/>
<circle cx="455.00" cy="433.45" r="1.15" fill="rgb(50,55,120)"/>
<circle cx="525.10" cy="373.60" r="1.15" fill="rgb(50,55,120)"/>
<polyline points="314.80,453.40 384.90,444.30 455.00,426.10 525.10,339.65" fill="none" stroke="rgb(110,90,65)" stroke-width="0.65" stroke-opacity="0.6"/>
<circle cx="314.80" cy="453.40" r="1.15" fill="rgb(70,60,45)"/>
<circle cx="384.90" cy="444.30" r="1.15" fill="rgb(70,60,45)"/>
<circle cx="455.00" cy="426.10" r="1.15" fill="rgb(70,60,45)"/>
<circle cx="525.10" cy="339.65" r="1.15" fill="rgb(70,60,45)"/>
<polyline points="314.80,450.60 384.90,439.75 455.00,417.70 525.10,348.75" fill="none" stroke="rgb(35,35,95)" stroke-width="0.65" stroke-opacity="0.85"/>
<circle cx="314.80" cy="450.60" r="1.15" fill="rgb(25,25,65)"/>
<circle cx="384.90" cy="439.75" r="1.15" fill="rgb(25,25,65)"/>
<circle cx="455.00" cy="417.70" r="1.15" fill="rgb(25,25,65)"/>
<circle cx="525.10" cy="348.75" r="1.15" fill="rgb(25,25,65)"/>
<path d="M304.20,328.10V465.00H536.00" stroke="#888" stroke-width="0.8" fill="none"/>
<path d="M302.40,461.10H304.20M302.40,443.60H304.20M302.40,426.10H304.20M302.40,408.60H304.20M302.40,391.10H304.20M302.40,373.60H304.20M302.40,356.10H304.20M302.40,338.60H304.20M314.80,465.00V466.80M384.90,465.00V466.80M455.00,465.00V466.80M525.10,465.00V466.80" stroke="#888" stroke-width="0.6" fill="none"/>
<text x="301.80" y="463.10" font-family="Liberation Sans" font-size="5.6" font-weight="normal" fill="#3c3c3c" text-anchor="end">0</text>
<text x="301.80" y="445.60" font-family="Liberation Sans" font-size="5.6" font-weight="normal" fill="#3c3c3c" text-anchor="end">5</text>
<text x="301.80" y="428.10" font-family="Liberation Sans" font-size="5.6" font-weight="normal" fill="#3c3c3c" text-anchor="end">10</text>
<text x="301.80" y="410.60" font-family="Liberation Sans" font-size="5.6" font-weight="normal" fill="#3c3c3c" text-anchor="end">15</text>
<text x="301.80" y="393.10" font-family="Liberation Sans" font-size="5.6" font-weight="normal" fill="#3c3c3c" text-anchor="end">20</text>
<text x="301.80" y="375.60" font-family="Liberation Sans" font-size="5.6" font-weight="normal" fill="#3c3c3c" text-anchor="end">25</text>
<text x="301.80" y="358.10" font-family="Liberation Sans" font-size="5.6" font-weight="normal" fill="#3c3c3c" text-anchor="end">30</text>
<text x="301.80" y="340.60" font-family="Liberation Sans" font-size="5.6" font-weight="normal" fill="#3c3c3c" text-anchor="end">35</text>
<text x="314.80" y="471.00" font-family="Liberation Sans" font-size="5.5" font-weight="normal" fill="#3c3c3c" text-anchor="middle">1 week</text>
<text x="384.90" y="471.00" font-family="Liberation Sans" font-size="5.5" font-weight="normal" fill="#3c3c3c" text-anchor="middle">2 week</text>
<text x="455.00" y="471.00" font-family="Liberation Sans" font-size="5.5" font-weight="normal" fill="#3c3c3c" text-anchor="middle">1 Month</text>
<text x="525.10" y="471.00" font-family="Liberation Sans" font-size="5.5" font-weight="normal" fill="#3c3c3c" text-anchor="middle">3 Month</text>
<text x="0" y="0" transform="translate(292.60,396.80) rotate(-90)" font-family="Liberation Sans" font-size="5.8" fill="#444" text-anchor="middle">Incidence Rate (IR)</text>
<rect x="305.50" y="329.80" width="68.30" height="25.30" rx="1" fill="#fff" fill-opacity="0.8" stroke="#dcdcdc" stroke-width="0.5"/>
<path d="M307.50,333.20H316.50" stroke="rgb(55,105,55)" stroke-width="0.8" stroke-opacity="0.7"/>
<circle cx="312.00" cy="333.20" r="1.2" fill="rgb(35,70,35)"/>
<text x="319.50" y="334.80" font-family="Liberation Sans" font-size="4.7" font-weight="normal" fill="#666" text-anchor="start">No</text>
<path d="M307.50,339.40H316.50" stroke="rgb(85,95,175)" stroke-width="0.8" stroke-opacity="0.7"/>
<circle cx="312.00" cy="339.40" r="1.2" fill="rgb(50,55,120)"/>
<text x="319.50" y="341.00" font-family="Liberation Sans" font-size="4.7" font-weight="normal" fill="#666" text-anchor="start">only mRNA vaccination</text>
<path d="M307.50,345.60H316.50" stroke="rgb(110,90,65)" stroke-width="0.8" stroke-opacity="0.7"/>
<circle cx="312.00" cy="345.60" r="1.2" fill="rgb(70,60,45)"/>
<text x="319.50" y="347.20" font-family="Liberation Sans" font-size="4.7" font-weight="normal" fill="#666" text-anchor="start">only cDNA vaccination</text>
<path d="M307.50,352.00H316.50" stroke="rgb(35,35,95)" stroke-width="0.8" stroke-opacity="0.7"/>
<circle cx="312.00" cy="352.00" r="1.2" fill="rgb(25,25,65)"/>
<text x="319.50" y="353.60" font-family="Liberation Sans" font-size="4.7" font-weight="normal" fill="#666" text-anchor="start">Heterologous vaccination</text>
<text x="389.90" y="324.60" font-family="Liberation Serif" font-size="9.4" font-weight="bold" fill="#1a1a1a" text-anchor="start" textLength="61.90" lengthAdjust="spacingAndGlyphs">Sleep disorders</text>
<text x="298.10" y="476.90" font-family="Liberation Serif" font-size="10" font-weight="bold" fill="#1a1a1a" text-anchor="middle">e</text>
<path d="M559.90,458.20H791.00M559.90,432.18H791.00M559.90,406.16H791.00M559.90,380.14H791.00M559.90,354.12H791.00M559.90,328.10H791.00M570.30,326.40V464.10M640.00,326.40V464.10M709.70,326.40V464.10M779.40,326.40V464.10" stroke="#e6e6e6" stroke-width="0.6" fill="none"/>
<polygon points="570.30,450.39 640.00,429.58 709.70,414.75 779.40,369.73 779.40,423.07 709.70,447.79 640.00,453.00 570.30,458.20" fill="rgb(80,90,210)" fill-opacity="0.3" stroke="rgb(80,90,210)" stroke-opacity="0.18" stroke-width="0.5"/>
<polygon points="570.30,458.20 640.00,445.19 709.70,416.57 779.40,333.56 779.40,406.16 709.70,455.60 640.00,458.20 570.30,458.20" fill="rgb(125,95,60)" fill-opacity="0.3" stroke="rgb(125,95,60)" stroke-opacity="0.18" stroke-width="0.5"/>
<polygon points="570.30,455.60 640.00,393.15 709.70,393.15 779.40,354.12 779.40,458.20 709.70,458.20 640.00,458.20 570.30,458.20" fill="rgb(10,10,120)" fill-opacity="0.3" stroke="rgb(10,10,120)" stroke-opacity="0.18" stroke-width="0.5"/>
<polygon points="570.30,458.20 640.00,458.20 709.70,455.60 779.40,432.18 779.40,458.20 709.70,458.20 640.00,458.20 570.30,458.20" fill="rgb(0,100,0)" fill-opacity="0.3" stroke="rgb(0,100,0)" stroke-opacity="0.18" stroke-width="0.5"/>
<polyline points="570.30,458.20 640.00,458.20 709.70,458.20 779.40,450.39" fill="none" stroke="rgb(55,105,55)" stroke-width="0.65" stroke-opacity="0.85"/>
<circle cx="570.30" cy="458.20" r="1.15" fill="rgb(35,70,35)"/>
<circle cx="640.00" cy="458.20" r="1.15" fill="rgb(35,70,35)"/>
<circle cx="709.70" cy="458.20" r="1.15" fill="rgb(35,70,35)"/>
<circle cx="779.40" cy="450.39" r="1.15" fill="rgb(35,70,35)"/>
<polyline points="570.30,455.60 640.00,445.19 709.70,437.38 779.40,395.75" fill="none" stroke="rgb(85,95,175)" stroke-width="0.65" stroke-opacity="0.6"/>
<circle cx="570.30" cy="455.60" r="1.15" fill="rgb(50,55,120)"/>
<circle cx="640.00" cy="445.19" r="1.15" fill="rgb(50,55,120)"/>
<circle cx="709.70" cy="437.38" r="1.15" fill="rgb(50,55,120)"/>
<circle cx="779.40" cy="395.75" r="1.15" fill="rgb(50,55,120)"/>
<polyline points="570.30,458.20 640.00,453.00 709.70,438.16 779.40,369.73" fill="none" stroke="rgb(110,90,65)" stroke-width="0.65" stroke-opacity="0.6"/>
<circle cx="570.30" cy="458.20" r="1.15" fill="rgb(70,60,45)"/>
<circle cx="640.00" cy="453.00" r="1.15" fill="rgb(70,60,45)"/>
<circle cx="709.70" cy="438.16" r="1.15" fill="rgb(70,60,45)"/>
<circle cx="779.40" cy="369.73" r="1.15" fill="rgb(70,60,45)"/>
<polyline points="570.30,458.20 640.00,437.38 709.70,437.38 779.40,413.97" fill="none" stroke="rgb(35,35,95)" stroke-width="0.65" stroke-opacity="0.85"/>
<circle cx="570.30" cy="458.20" r="1.15" fill="rgb(25,25,65)"/>
<circle cx="640.00" cy="437.38" r="1.15" fill="rgb(25,25,65)"/>
<circle cx="709.70" cy="437.38" r="1.15" fill="rgb(25,25,65)"/>
<circle cx="779.40" cy="413.97" r="1.15" fill="rgb(25,25,65)"/>
<path d="M559.90,326.40V464.10H791.00" stroke="#888" stroke-width="0.8" fill="none"/>
<path d="M558.10,458.20H559.90M558.10,432.18H559.90M558.10,406.16H559.90M558.10,380.14H559.90M558.10,354.12H559.90M558.10,328.10H559.90M570.30,464.10V465.90M640.00,464.10V465.90M709.70,464.10V465.90M779.40,464.10V465.90" stroke="#888" stroke-width="0.6" fill="none"/>
<text x="557.50" y="460.20" font-family="Liberation Sans" font-size="5.6" font-weight="normal" fill="#3c3c3c" text-anchor="end">0.0</text>
<text x="557.50" y="434.18" font-family="Liberation Sans" font-size="5.6" font-weight="normal" fill="#3c3c3c" text-anchor="end">0.1</text>
<text x="557.50" y="408.16" font-family="Liberation Sans" font-size="5.6" font-weight="normal" fill="#3c3c3c" text-anchor="end">0.2</text>
<text x="557.50" y="382.14" font-family="Liberation Sans" font-size="5.6" font-weight="normal" fill="#3c3c3c" text-anchor="end">0.3</text>
<text x="557.50" y="356.12" font-family="Liberation Sans" font-size="5.6" font-weight="normal" fill="#3c3c3c" text-anchor="end">0.4</text>
<text x="557.50" y="330.10" font-family="Liberation Sans" font-size="5.6" font-weight="normal" fill="#3c3c3c" text-anchor="end">0.5</text>
<text x="570.30" y="470.10" font-family="Liberation Sans" font-size="5.5" font-weight="normal" fill="#3c3c3c" text-anchor="middle">1 week</text>
<text x="640.00" y="470.10" font-family="Liberation Sans" font-size="5.5" font-weight="normal" fill="#3c3c3c" text-anchor="middle">2 week</text>
<text x="709.70" y="470.10" font-family="Liberation Sans" font-size="5.5" font-weight="normal" fill="#3c3c3c" text-anchor="middle">1 Month</text>
<text x="779.40" y="470.10" font-family="Liberation Sans" font-size="5.5" font-weight="normal" fill="#3c3c3c" text-anchor="middle">3 Month</text>
<text x="0" y="0" transform="translate(548.00,398.40) rotate(-90)" font-family="Liberation Sans" font-size="5.8" fill="#444" text-anchor="middle">Incidence Rate (IR)</text>
<rect x="561.50" y="329.30" width="68.00" height="26.30" rx="1" fill="#fff" fill-opacity="0.8" stroke="#dcdcdc" stroke-width="0.5"/>
<path d="M563.50,332.90H572.50" stroke="rgb(55,105,55)" stroke-width="0.8" stroke-opacity="0.7"/>
<circle cx="568.00" cy="332.90" r="1.2" fill="rgb(35,70,35)"/>
<text x="575.50" y="334.50" font-family="Liberation Sans" font-size="4.7" font-weight="normal" fill="#666" text-anchor="start">No</text>
<path d="M563.50,339.30H572.50" stroke="rgb(85,95,175)" stroke-width="0.8" stroke-opacity="0.7"/>
<circle cx="568.00" cy="339.30" r="1.2" fill="rgb(50,55,120)"/>
<text x="575.50" y="340.90" font-family="Liberation Sans" font-size="4.7" font-weight="normal" fill="#666" text-anchor="start">only mRNA vaccination</text>
<path d="M563.50,345.50H572.50" stroke="rgb(110,90,65)" stroke-width="0.8" stroke-opacity="0.7"/>
<circle cx="568.00" cy="345.50" r="1.2" fill="rgb(70,60,45)"/>
<text x="575.50" y="347.10" font-family="Liberation Sans" font-size="4.7" font-weight="normal" fill="#666" text-anchor="start">only cDNA vaccination</text>
<path d="M563.50,351.70H572.50" stroke="rgb(35,35,95)" stroke-width="0.8" stroke-opacity="0.7"/>
<circle cx="568.00" cy="351.70" r="1.2" fill="rgb(25,25,65)"/>
<text x="575.50" y="353.30" font-family="Liberation Sans" font-size="4.7" font-weight="normal" fill="#666" text-anchor="start">Heterologous vaccination</text>
<text x="644.30" y="320.80" font-family="Liberation Serif" font-size="9.4" font-weight="bold" fill="#1a1a1a" text-anchor="start" textLength="66.70" lengthAdjust="spacingAndGlyphs">Sexual disorders</text>
<text x="551.50" y="475.20" font-family="Liberation Serif" font-size="10" font-weight="bold" fill="#1a1a1a" text-anchor="middle">f</text>
<text x="9.90" y="499.90" font-family="Liberation Sans" font-size="11.9" font-weight="bold" fill="#231f20" text-anchor="start" stroke="#231f20" stroke-width="0.45" textLength="16.20" lengthAdjust="spacingAndGlyphs">Fig.</text>
<text x="31.90" y="499.90" font-family="Liberation Sans" font-size="11.9" font-weight="bold" fill="#231f20" text-anchor="start" stroke="#231f20" stroke-width="0.45" textLength="6.10" lengthAdjust="spacingAndGlyphs">2</text>
<text x="51.50" y="499.90" font-family="Liberation Sans" font-size="11.9" font-weight="bold" fill="#231f20" text-anchor="start" stroke="#231f20" stroke-width="0.45" textLength="67.60" lengthAdjust="spacingAndGlyphs">Cumulative</text>
<text x="126.10" y="499.90" font-family="Liberation Sans" font-size="11.9" font-weight="bold" fill="#231f20" text-anchor="start" stroke="#231f20" stroke-width="0.45" textLength="54.90" lengthAdjust="spacingAndGlyphs">incidence</text>
<text x="188.10" y="499.90" font-family="Liberation Sans" font-size="11.9" font-weight="bold" fill="#231f20" text-anchor="start" stroke="#231f20" stroke-width="0.45" textLength="28.60" lengthAdjust="spacingAndGlyphs">rates</text>
<text x="222.80" y="499.90" font-family="Liberation Sans" font-size="11.9" font-weight="bold" fill="#231f20" text-anchor="start" stroke="#231f20" stroke-width="0.45" textLength="12.50" lengthAdjust="spacingAndGlyphs">of</text>
<text x="241.50" y="499.90" font-family="Liberation Sans" font-size="11.9" font-weight="bold" fill="#231f20" text-anchor="start" stroke="#231f20" stroke-width="0.45" textLength="43.00" lengthAdjust="spacingAndGlyphs">mental</text>
<text x="289.00" y="499.90" font-family="Liberation Sans" font-size="11.9" font-weight="bold" fill="#231f20" text-anchor="start" stroke="#231f20" stroke-width="0.45" textLength="54.90" lengthAdjust="spacingAndGlyphs">disorders</text>
<text x="350.10" y="499.90" font-family="Liberation Sans" font-size="11.9" font-weight="bold" fill="#231f20" text-anchor="start" stroke="#231f20" stroke-width="0.45" textLength="56.60" lengthAdjust="spacingAndGlyphs">following</text>
<text x="412.90" y="499.90" font-family="Liberation Sans" font-size="11.9" font-weight="bold" fill="#231f20" text-anchor="start" stroke="#231f20" stroke-width="0.45" textLength="57.50" lengthAdjust="spacingAndGlyphs">COVID-19</text>
<text x="477.40" y="499.90" font-family="Liberation Sans" font-size="11.9" font-weight="bold" fill="#231f20" text-anchor="start" stroke="#231f20" stroke-width="0.45" textLength="66.80" lengthAdjust="spacingAndGlyphs">vaccination</text>
<text x="550.40" y="499.90" font-family="Liberation Sans" font-size="11.9" font-weight="bold" fill="#231f20" text-anchor="start" stroke="#231f20" stroke-width="0.45" textLength="58.30" lengthAdjust="spacingAndGlyphs">according</text>
<text x="614.90" y="499.90" font-family="Liberation Sans" font-size="11.9" font-weight="bold" fill="#231f20" text-anchor="start" stroke="#231f20" stroke-width="0.45" textLength="13.30" lengthAdjust="spacingAndGlyphs">to</text>
<text x="634.40" y="499.90" font-family="Liberation Sans" font-size="11.9" font-weight="bold" fill="#231f20" text-anchor="start" stroke="#231f20" stroke-width="0.45" textLength="44.70" lengthAdjust="spacingAndGlyphs">vaccine</text>
<text x="685.00" y="499.90" font-family="Liberation Sans" font-size="11.9" font-weight="bold" fill="#231f20" text-anchor="start" stroke="#231f20" stroke-width="0.45" textLength="29.80" lengthAdjust="spacingAndGlyphs">type.</text>
<text x="720.60" y="499.90" font-family="Liberation Sans" font-size="11.9" font-weight="bold" fill="#231f20" text-anchor="start" stroke="#231f20" stroke-width="0.45" textLength="7.40" lengthAdjust="spacingAndGlyphs">a</text>
<text x="733.30" y="499.90" font-family="Liberation Sans" font-size="11.9" font-weight="normal" fill="#231f20" text-anchor="start" stroke="#231f20" stroke-width="0.25" textLength="84.40" lengthAdjust="spacingAndGlyphs">Schizophrenia.</text>
<text x="9.90" y="513.80" font-family="Liberation Sans" font-size="11.9" font-weight="bold" fill="#231f20" text-anchor="start" stroke="#231f20" stroke-width="0.45" textLength="6.50" lengthAdjust="spacingAndGlyphs">b</text>
<text x="21.80" y="513.80" font-family="Liberation Sans" font-size="11.9" font-weight="normal" fill="#231f20" text-anchor="start" stroke="#231f20" stroke-width="0.25" textLength="66.70" lengthAdjust="spacingAndGlyphs">Depression.</text>
<text x="92.20" y="513.80" font-family="Liberation Sans" font-size="11.9" font-weight="bold" fill="#231f20" text-anchor="start" stroke="#231f20" stroke-width="0.45" textLength="6.50" lengthAdjust="spacingAndGlyphs">c</text>
<text x="103.20" y="513.80" font-family="Liberation Sans" font-size="11.9" font-weight="normal" fill="#231f20" text-anchor="start" stroke="#231f20" stroke-width="0.25" textLength="40.60" lengthAdjust="spacingAndGlyphs">Bipolar</text>
<text x="147.30" y="513.80" font-family="Liberation Sans" font-size="11.9" font-weight="normal" fill="#231f20" text-anchor="start" stroke="#231f20" stroke-width="0.25" textLength="49.80" lengthAdjust="spacingAndGlyphs">disorder.</text>
<text x="201.60" y="513.80" font-family="Liberation Sans" font-size="11.9" font-weight="bold" fill="#231f20" text-anchor="start" stroke="#231f20" stroke-width="0.45" textLength="8.30" lengthAdjust="spacingAndGlyphs">d</text>
<text x="214.40" y="513.80" font-family="Liberation Sans" font-size="11.9" font-weight="normal" fill="#231f20" text-anchor="start" stroke="#231f20" stroke-width="0.25" textLength="44.70" lengthAdjust="spacingAndGlyphs">Anxiety,</text>
<text x="264.40" y="513.80" font-family="Liberation Sans" font-size="11.9" font-weight="normal" fill="#231f20" text-anchor="start" stroke="#231f20" stroke-width="0.25" textLength="66.80" lengthAdjust="spacingAndGlyphs">dissociative,</text>
<text x="336.50" y="513.80" font-family="Liberation Sans" font-size="11.9" font-weight="normal" fill="#231f20" text-anchor="start" stroke="#231f20" stroke-width="0.25" textLength="79.60" lengthAdjust="spacingAndGlyphs">stress-related,</text>
<text x="421.40" y="513.80" font-family="Liberation Sans" font-size="11.9" font-weight="normal" fill="#231f20" text-anchor="start" stroke="#231f20" stroke-width="0.25" textLength="20.10" lengthAdjust="spacingAndGlyphs">and</text>
<text x="446.90" y="513.80" font-family="Liberation Sans" font-size="11.9" font-weight="normal" fill="#231f20" text-anchor="start" stroke="#231f20" stroke-width="0.25" textLength="67.60" lengthAdjust="spacingAndGlyphs">somatoform</text>
<text x="520.70" y="513.80" font-family="Liberation Sans" font-size="11.9" font-weight="normal" fill="#231f20" text-anchor="start" stroke="#231f20" stroke-width="0.25" textLength="51.50" lengthAdjust="spacingAndGlyphs">disorders.</text>
<text x="580.10" y="513.80" font-family="Liberation Sans" font-size="11.9" font-weight="bold" fill="#231f20" text-anchor="start" stroke="#231f20" stroke-width="0.45" textLength="7.40" lengthAdjust="spacingAndGlyphs">e</text>
<text x="591.90" y="513.80" font-family="Liberation Sans" font-size="11.9" font-weight="normal" fill="#231f20" text-anchor="start" stroke="#231f20" stroke-width="0.25" textLength="30.90" lengthAdjust="spacingAndGlyphs">Sleep</text>
<text x="627.60" y="513.80" font-family="Liberation Sans" font-size="11.9" font-weight="normal" fill="#231f20" text-anchor="start" stroke="#231f20" stroke-width="0.25" textLength="48.10" lengthAdjust="spacingAndGlyphs">disorder.</text>
<text x="680.70" y="513.80" font-family="Liberation Sans" font-size="11.9" font-weight="bold" fill="#231f20" text-anchor="start" stroke="#231f20" stroke-width="0.45" textLength="5.60" lengthAdjust="spacingAndGlyphs">f</text>
<text x="689.70" y="513.80" font-family="Liberation Sans" font-size="11.9" font-weight="normal" fill="#231f20" text-anchor="start" stroke="#231f20" stroke-width="0.25" textLength="36.60" lengthAdjust="spacingAndGlyphs">Sexual</text>
<text x="732.50" y="513.80" font-family="Liberation Sans" font-size="11.9" font-weight="normal" fill="#231f20" text-anchor="start" stroke="#231f20" stroke-width="0.25" textLength="54.90" lengthAdjust="spacingAndGlyphs">disorders.</text>
</svg></body></html>
